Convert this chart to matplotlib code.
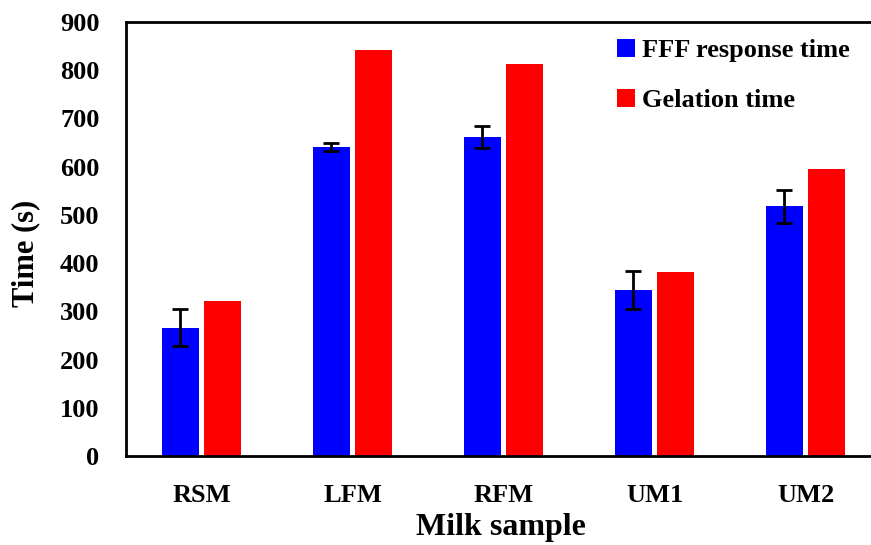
import matplotlib
matplotlib.use("Agg")
import matplotlib.pyplot as plt
import numpy as np

categories = ["RSM", "LFM", "RFM", "UM1", "UM2"]
fff_response = [266, 641, 661, 344, 518]
fff_error = [38, 9, 23, 39, 34]
gelation = [321, 841, 813, 381, 595]
yticks = [0, 100, 200, 300, 400, 500, 600, 700, 800, 900]

plt.rcParams['font.family'] = ['Liberation Serif', 'DejaVu Serif']
plt.rcParams['font.weight'] = 'bold'

W, H = 871, 545
fig = plt.figure(figsize=(W / 100, H / 100), dpi=100)
ax = fig.add_axes([126 / W, (H - 456) / H, (W - 126) / W, (456 - 22) / H])

x = np.arange(len(categories))
bw = 0.242
off = 0.14
ax.bar(x - off, fff_response, bw, color='#0000FF', label='FFF response time',
       yerr=fff_error, error_kw=dict(ecolor='black', elinewidth=2, capsize=6, capthick=2))
ax.bar(x + off, gelation, bw, color='#FF0000', label='Gelation time')

ax.set_xlim(-0.5, -0.5 + (W - 126) / 151)
ax.set_ylim(0, 900)
ax.set_yticks(yticks)
ax.set_xticks(x)
ax.set_xticklabels(categories)
ax.tick_params(axis='both', length=0, labelsize=19)
ax.tick_params(axis='y', pad=19)
ax.tick_params(axis='x', pad=20)
for lab in ax.get_xticklabels() + ax.get_yticklabels():
    lab.set_fontweight('bold')

for s in ['left', 'bottom', 'top']:
    ax.spines[s].set_linewidth(2)
ax.spines['right'].set_visible(False)

ax.set_ylabel('Time (s)', fontsize=22, fontweight='bold')
ax.yaxis.set_label_coords(-(126 - 26) / (W - 126), (456 - 253) / 434)
ax.set_xlabel('Milk sample', fontsize=23, fontweight='bold')
ax.xaxis.set_label_coords((501 - 126) / (W - 126), -(528 - 456) / 434)
ax.xaxis.label.set_va('center')
ax.yaxis.label.set_va('center')

leg = ax.legend(loc='upper left', bbox_to_anchor=((593 - 126) / (W - 126), 1.0 + 7 / 434),
                frameon=False, prop=dict(size=19, weight='bold'),
                handlelength=0.7, handleheight=0.7, handletextpad=0.25, labelspacing=1.0,
                borderaxespad=0.5)

fig.savefig('out.png', dpi=100)
